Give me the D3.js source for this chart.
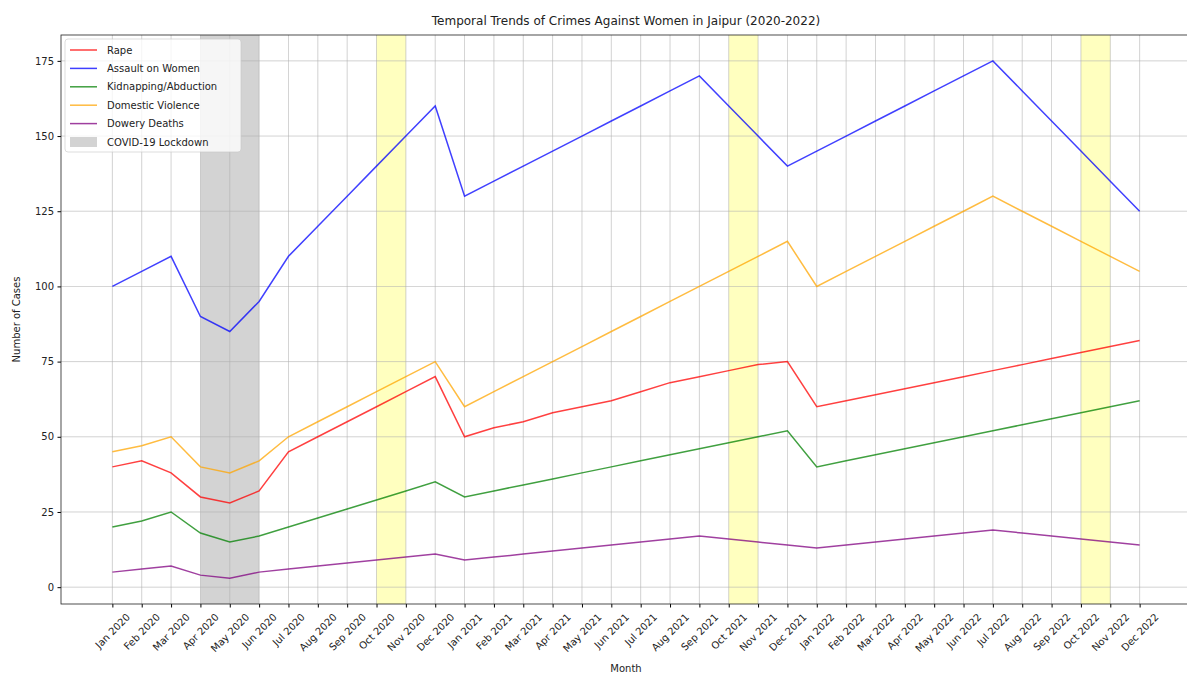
<!DOCTYPE html>
<html><head><meta charset="utf-8">
<script src="https://cdn.jsdelivr.net/npm/d3@7"></script>
<style>body{margin:0;background:#fff;} text{font-family:"DejaVu Sans",sans-serif;}</style>
</head><body><svg id="c" width="1187" height="675"></svg>
<script>
const months = ["Jan 2020","Feb 2020","Mar 2020","Apr 2020","May 2020","Jun 2020","Jul 2020","Aug 2020","Sep 2020","Oct 2020","Nov 2020","Dec 2020",
"Jan 2021","Feb 2021","Mar 2021","Apr 2021","May 2021","Jun 2021","Jul 2021","Aug 2021","Sep 2021","Oct 2021","Nov 2021","Dec 2021",
"Jan 2022","Feb 2022","Mar 2022","Apr 2022","May 2022","Jun 2022","Jul 2022","Aug 2022","Sep 2022","Oct 2022","Nov 2022","Dec 2022"];
const rape = [40,42,38,30,28,32,45,50,55,60,65,70, 50,53,55,58,60,62,65,68,70,72,74,75, 60,62,64,66,68,70,72,74,76,78,80,82];
const assault = [100,105,110,90,85,95,110,120,130,140,150,160, 130,135,140,145,150,155,160,165,170,160,150,140, 145,150,155,160,165,170,175,165,155,145,135,125];
const kidnapping = [20,22,25,18,15,17,20,23,26,29,32,35, 30,32,34,36,38,40,42,44,46,48,50,52, 40,42,44,46,48,50,52,54,56,58,60,62];
const domestic = [45,47,50,40,38,42,50,55,60,65,70,75, 60,65,70,75,80,85,90,95,100,105,110,115, 100,105,110,115,120,125,130,125,120,115,110,105];
const dowry = [5,6,7,4,3,5,6,7,8,9,10,11, 9,10,11,12,13,14,15,16,17,16,15,14, 13,14,15,16,17,18,19,18,17,16,15,14];
const seriesNames = ["Rape","Assault on Women","Kidnapping/Abduction","Domestic Violence","Dowery Deaths"];
const seriesColors = ["red","blue","green","orange","purple"];
const lockdown = ["Apr 2020","Jun 2020"];
const highlights = [["Oct 2020","Nov 2020"],["Oct 2021","Nov 2021"],["Oct 2022","Nov 2022"]];
const yTicks = [0,25,50,75,100,125,150,175];

const seriesData = [rape, assault, kidnapping, domestic, dowry];
const svg = d3.select("#c");
const L = 61, R = 1191, T = 35, B = 604;
const n = months.length;
const x = d3.scaleLinear().domain([-1.75, n - 1 + 1.75]).range([L, R]);
const allVals = seriesData.flat();
const ymin = d3.min(allVals), ymax = d3.max(allVals), pad = (ymax - ymin) * 0.05;
const y = d3.scaleLinear().domain([ymin - pad, ymax + pad]).range([B, T]);

// spans
svg.append("rect").attr("x", x(months.indexOf(lockdown[0]))).attr("y", T)
  .attr("width", x(months.indexOf(lockdown[1])) - x(months.indexOf(lockdown[0]))).attr("height", B - T)
  .attr("fill", "rgb(211,211,211)");
highlights.forEach(h => {
  svg.append("rect").attr("x", x(months.indexOf(h[0]))).attr("y", T)
    .attr("width", x(months.indexOf(h[1])) - x(months.indexOf(h[0]))).attr("height", B - T)
    .attr("fill", "yellow").attr("opacity", 0.25);
});

// grid
const g = svg.append("g");
months.forEach((m, i) => g.append("line").attr("x1", x(i)).attr("x2", x(i)).attr("y1", T).attr("y2", B)
  .attr("stroke", "#b0b0b0").attr("stroke-width", 0.8).attr("opacity", 0.7));
yTicks.forEach(t => g.append("line").attr("x1", L).attr("x2", R).attr("y1", y(t)).attr("y2", y(t))
  .attr("stroke", "#b0b0b0").attr("stroke-width", 0.8).attr("opacity", 0.7));

// lines
const line = d3.line().x((d, i) => x(i)).y(d => y(d));
seriesData.forEach((s, k) => {
  svg.append("path").datum(s).attr("d", line).attr("fill", "none")
    .attr("stroke", seriesColors[k]).attr("stroke-width", 1.5).attr("opacity", 0.75);
});

// axes
const xAxis = d3.axisBottom(x).tickValues(d3.range(n)).tickFormat(i => months[i]).tickSize(3.5).tickPadding(3);
const xg = svg.append("g").attr("transform", `translate(0,${B})`).call(xAxis);
xg.select(".domain").remove();
xg.selectAll(".tick text").each(function() {
  const t = d3.select(this);
  t.attr("font-size", 10).attr("fill", "#222").attr("text-anchor", "middle").attr("dy", "0.32em").attr("y", 0);
  const w = this.getComputedTextLength();
  const bh = (w + 10) * Math.SQRT1_2;
  t.attr("transform", `translate(0,${8 + bh / 2}) rotate(-45)`);
});
const yAxis = d3.axisLeft(y).tickValues(yTicks).tickSize(3.5).tickPadding(3.5);
const yg = svg.append("g").attr("transform", `translate(${L},0)`).call(yAxis);
yg.select(".domain").remove();
yg.selectAll("text").attr("font-size", 10).attr("fill", "#222");

svg.append("rect").attr("x", L).attr("y", T).attr("width", R - L).attr("height", B - T)
  .attr("fill", "none").attr("stroke", "#222").attr("stroke-width", 0.8);

// titles
svg.append("text").attr("x", (L + R) / 2).attr("y", 25).attr("text-anchor", "middle").attr("font-size", 12).attr("fill", "#222")
  .text("Temporal Trends of Crimes Against Women in Jaipur (2020-2022)");
svg.append("text").attr("x", (L + R) / 2).attr("y", 672).attr("text-anchor", "middle").attr("font-size", 10).attr("fill", "#222").text("Month");
svg.append("text").attr("transform", `translate(20,${(T + B) / 2}) rotate(-90)`).attr("text-anchor", "middle")
  .attr("font-size", 10).attr("fill", "#222").text("Number of Cases");

// legend
const lg = svg.append("g").attr("transform", `translate(${L + 4},${T + 4})`);
lg.append("rect").attr("width", 176).attr("height", 113).attr("rx", 3).attr("fill", "white").attr("opacity", 0.8)
  .attr("stroke", "#ccc").attr("stroke-width", 0.8);
const items = seriesNames.map((s, k) => ({name: s, color: seriesColors[k], type: "line"}))
  .concat([{name: "COVID-19 Lockdown", color: "rgb(211,211,211)", type: "patch"}]);
items.forEach((it, k) => {
  const yy = 11 + k * 18.4;
  if (it.type === "line") lg.append("line").attr("x1", 5).attr("x2", 32).attr("y1", yy).attr("y2", yy)
    .attr("stroke", it.color).attr("stroke-width", 1.5).attr("opacity", 0.75);
  else lg.append("rect").attr("x", 5).attr("y", yy - 5).attr("width", 27).attr("height", 10).attr("fill", it.color);
  lg.append("text").attr("x", 42).attr("y", yy + 3.5).attr("font-size", 10).attr("fill", "#222").text(it.name);
});
</script></body></html>
